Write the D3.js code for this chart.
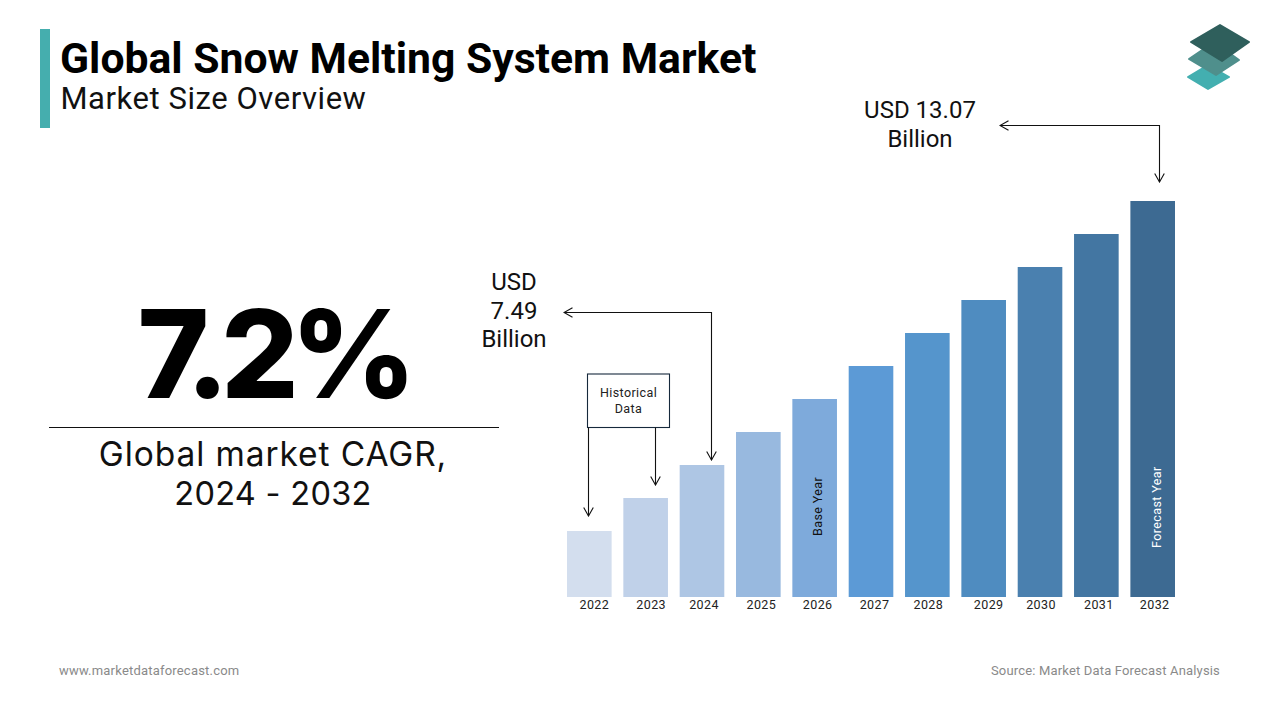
<!DOCTYPE html>
<html lang="en">
  <head>
    <meta charset="utf-8">
    <title>Global Snow Melting System Market</title>
    <script src="https://d3js.org/d3.v7.min.js"></script>
    <style>
      html, body { margin: 0; background: #fff; }
      svg { display: block; font-family: Roboto, sans-serif; }
      .domain, .tick line { display: none; }
    </style>
  </head>
  <body>
    <div id="viz"></div>
    <script>
      // the bars are schematic: heights, in equal steps
      var years = ['2022','2023','2024','2025','2026','2027','2028','2029','2030','2031','2032']
      var barValues = [2,3,4,5,6,7,8,9,10,11,12]
      var barColors = ['#d3deee','#c0d1e9','#aec6e4','#98b9df','#7eaadb','#5c9ad6','#5595cc','#4f8cc0','#4a80af','#4376a2','#3d6a92']
      // year labels are not quite centred under the bars in the original
      var labelShift = [5,5.5,2,3,3,3.5,1,5,1,2.5,2]

      var svg = d3.select('#viz').append('svg').attr('width', 1280).attr('height', 720)

      var x = d3.scaleBand().domain(years).range([567, 1175]).paddingInner(0.208).paddingOuter(0)
      var y = d3.scaleLinear().domain([0, 12]).range([597, 201])

      var defs = svg.append('defs')
      defs.append('marker')
        .attr('id', 'head')
        .attr('viewBox', '-10 -6 11 12')
        .attr('refX', 0).attr('refY', 0)
        .attr('markerUnits', 'userSpaceOnUse')
        .attr('markerWidth', 11).attr('markerHeight', 12)
        .attr('orient', 'auto-start-reverse')
        .append('path')
        .attr('d', 'M-8.5,-4.8L0,0L-8.5,4.8')
        .attr('fill', 'none').attr('stroke', '#111').attr('stroke-width', 1.1)

      // header
      svg.append('rect').attr('x', 40).attr('y', 29).attr('width', 10).attr('height', 99).attr('fill', '#45aeae')
      svg.append('text').attr('x', 60).attr('y', 73).attr('font-size', 42.7).attr('font-weight', 700)
        .attr('fill', '#000').text('Global Snow Melting System Market')
      svg.append('text').attr('x', 60.5).attr('y', 109).attr('font-size', 31).attr('letter-spacing', 0.55).attr('fill', '#111')
        .text('Market Size Overview')

      // logo
      var logo = svg.append('g')
      logo.append('path').attr('d', 'M1208,65L1229,77L1208,89L1188,77Z').attr('fill', '#43afb0')
        .attr('stroke', '#43afb0').attr('stroke-width', 2).attr('stroke-linejoin', 'round')
      logo.append('path').attr('d', 'M1214,42L1239,60L1216,75L1189,59Z').attr('fill', '#4f8f8c')
        .attr('stroke', '#4f8f8c').attr('stroke-width', 2).attr('stroke-linejoin', 'round')
      logo.append('path').attr('d', 'M1220,25L1249,42L1222,61L1191,42Z').attr('fill', '#2f5f5c')
        .attr('stroke', '#2f5f5c').attr('stroke-width', 2).attr('stroke-linejoin', 'round')

      // left panel
      svg.append('text').attr('x', 273).attr('y', 398).attr('text-anchor', 'middle')
        .attr('font-family', 'Inter').attr('font-size', 122).attr('font-weight', 800).attr('letter-spacing', -8).attr('fill', '#000')
        .text('7.2%')
      svg.append('line').attr('x1', 49).attr('x2', 499).attr('y1', 427.5).attr('y2', 427.5)
        .attr('stroke', '#111').attr('stroke-width', 1.2)
      svg.append('text').attr('x', 273).attr('y', 466).attr('text-anchor', 'middle')
        .attr('font-family', 'Inter').attr('font-size', 33.5).attr('letter-spacing', 0.9).attr('fill', '#111').text('Global market CAGR,')
      svg.append('text').attr('x', 273).attr('y', 505).attr('text-anchor', 'middle')
        .attr('font-family', 'Inter').attr('font-size', 32.5).attr('letter-spacing', 0.3).attr('fill', '#111').text('2024 - 2032')

      // bars
      svg.selectAll('.bar').data(years).enter().append('rect')
        .attr('class', 'bar')
        .attr('x', function(d){ return x(d) })
        .attr('y', function(d, i){ return y(barValues[i]) })
        .attr('width', x.bandwidth())
        .attr('height', function(d, i){ return y(0) - y(barValues[i]) })
        .attr('fill', function(d, i){ return barColors[i] })

      // year axis
      var axis = svg.append('g').attr('transform', 'translate(0,597)').call(d3.axisBottom(x).tickSize(0).tickPadding(0))
      axis.selectAll('text')
        .attr('font-family', 'Roboto').attr('font-size', 12.5).attr('fill', '#222')
        .attr('letter-spacing', 0.4).attr('y', 1)
        .attr('dy', '0.9em')
        .attr('dx', function(d, i){ return labelShift[i] })

      // rotated labels inside the bars
      svg.append('text').attr('transform', 'translate(822,536) rotate(-90)')
        .attr('font-size', 12.5).attr('letter-spacing', 0.4).attr('fill', '#111').text('Base Year')
      svg.append('text').attr('transform', 'translate(1161,548) rotate(-90)')
        .attr('font-size', 12.5).attr('letter-spacing', 0.4).attr('fill', '#fff').text('Forecast Year')

      // historical data box
      svg.append('rect').attr('x', 587.5).attr('y', 374).attr('width', 82).attr('height', 53.5)
        .attr('fill', '#fff').attr('stroke', '#16293c').attr('stroke-width', 1.1)
      svg.append('text').attr('x', 628.5).attr('y', 397).attr('text-anchor', 'middle').attr('font-size', 12.5)
        .attr('letter-spacing', 0.4).attr('fill', '#222').text('Historical')
      svg.append('text').attr('x', 628.5).attr('y', 413).attr('text-anchor', 'middle').attr('font-size', 12.5)
        .attr('letter-spacing', 0.4).attr('fill', '#222').text('Data')

      // arrows
      function arrow(d, both) {
        var p = svg.append('path').attr('d', d).attr('fill', 'none').attr('stroke', '#111').attr('stroke-width', 1.1)
          .attr('marker-end', 'url(#head)')
        if (both) p.attr('marker-start', 'url(#head)')
      }
      arrow('M588.5,427.5V516')
      arrow('M655.5,427.5V485')
      arrow('M564,312.5H711.5V460', true)
      arrow('M1000,125.5H1159.5V182', true)

      // value callouts
      var callout = [['USD', 514, 290], ['7.49', 514, 319], ['Billion', 514, 347], ['USD 13.07', 920, 118], ['Billion', 920, 147]]
      svg.selectAll('.callout').data(callout).enter().append('text')
        .attr('class', 'callout')
        .attr('x', function(d){ return d[1] })
        .attr('y', function(d){ return d[2] })
        .attr('text-anchor', 'middle').attr('font-size', 24).attr('fill', '#111')
        .text(function(d){ return d[0] })

      // footer
      svg.append('text').attr('x', 59).attr('y', 675).attr('font-size', 13).attr('letter-spacing', 0.2).attr('fill', '#8a8a8a')
        .text('www.marketdataforecast.com')
      svg.append('text').attr('x', 1220).attr('y', 675).attr('text-anchor', 'end').attr('font-size', 13).attr('letter-spacing', 0.17).attr('fill', '#8a8a8a')
        .text('Source: Market Data Forecast Analysis')
    </script>
  </body>
</html>
